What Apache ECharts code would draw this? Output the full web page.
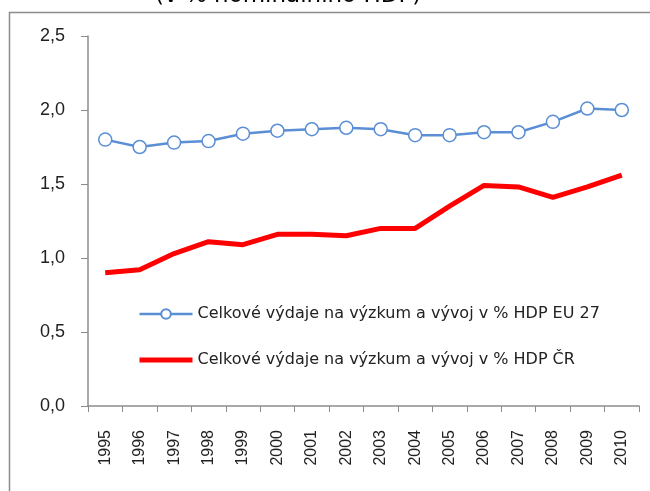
<!DOCTYPE html>
<html>
<head>
<meta charset="utf-8">
<script src="https://cdn.jsdelivr.net/npm/echarts@6/dist/echarts.min.js"></script>
<style>
  html, body { margin: 0; padding: 0; background: #fff; }
  #chart { width: 650px; height: 491px; }
</style>
</head>
<body>
<div id="chart"></div>
<script>
var years = ['1995', '1996', '1997', '1998', '1999', '2000', '2001', '2002',
    '2003', '2004', '2005', '2006', '2007', '2008', '2009', '2010'];
var eu27 = [1.80, 1.75, 1.78, 1.79, 1.84, 1.86, 1.87, 1.88,
    1.87, 1.83, 1.83, 1.85, 1.85, 1.92, 2.01, 2.00];
var cr = [0.90, 0.92, 1.03, 1.11, 1.09, 1.16, 1.16, 1.15,
    1.20, 1.20, 1.35, 1.49, 1.48, 1.41, 1.48, 1.56];
var nameEU = 'Celkové výdaje na výzkum a vývoj v % HDP EU 27';
var nameCR = 'Celkové výdaje na výzkum a vývoj v % HDP ČR';

var chart = document.getElementById('chart');
var myChart = echarts.init(chart);

var option = {
    animation: false,
    backgroundColor: '#fff',
    textStyle: { fontFamily: 'Liberation Sans' },
    title: {
        text: '(v % nominálního HDP)',
        left: 150,
        top: -20,
        textStyle: { fontSize: 23, fontWeight: 'normal', color: '#000', fontFamily: 'DejaVu Sans' }
    },
    graphic: [{
        type: 'polyline',
        shape: { points: [[9.5, 491], [9.5, 12.5], [650, 12.5]] },
        style: { stroke: '#8c8c8c', lineWidth: 1.5, fill: null }
    }],
    legend: {
        orient: 'vertical',
        left: 132,
        top: 301,
        itemWidth: 53,
        itemHeight: 12,
        itemGap: 30,
        textStyle: { fontSize: 16, color: '#222', fontFamily: 'DejaVu Sans' },
        data: [
            { name: nameEU, lineStyle: { width: 2.5 } },
            { name: nameCR, itemStyle: { opacity: 0 }, lineStyle: { width: 5 } }
        ]
    },
    grid: { left: 88, right: 11, top: 36, bottom: 85 },
    xAxis: {
        type: 'category',
        data: years,
        boundaryGap: true,
        axisLine: { lineStyle: { color: '#8c8c8c', width: 1.5 } },
        axisTick: { show: true, length: 6, lineStyle: { color: '#8c8c8c' } },
        axisLabel: { rotate: 90, margin: 24, fontSize: 16, color: '#222', interval: 0 }
    },
    yAxis: {
        type: 'value',
        min: 0,
        max: 2.5,
        interval: 0.5,
        splitLine: { show: false },
        axisLine: { show: true, lineStyle: { color: '#8c8c8c', width: 1.5 } },
        axisTick: { show: true, length: 7, lineStyle: { color: '#8c8c8c' } },
        axisLabel: {
            margin: 23, fontSize: 18, color: '#222',
            formatter: function (v) { return v.toFixed(1).replace('.', ','); }
        }
    },
    series: [
        {
            name: nameEU,
            type: 'line',
            data: eu27,
            symbol: 'circle',
            symbolSize: 13,
            lineStyle: { color: '#5a8fd6', width: 2.5 },
            itemStyle: { color: '#fff', borderColor: '#5a8fd6', borderWidth: 1.5 }
        },
        {
            name: nameCR,
            type: 'line',
            data: cr,
            symbol: 'none',
            lineStyle: { color: '#ff0000', width: 5 },
            itemStyle: { color: '#ff0000' }
        }
    ]
};

myChart.setOption(option);
</script>
</body>
</html>
